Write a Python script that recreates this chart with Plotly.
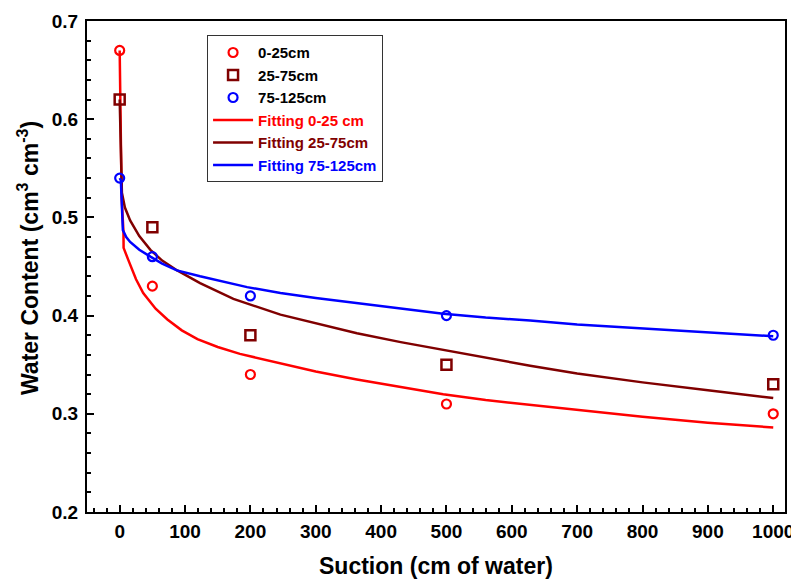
import plotly.graph_objects as go

# Measured data
suction = [0, 50, 200, 500, 1000]
wc_0_25 = [0.67, 0.43, 0.34, 0.31, 0.30]
wc_25_75 = [0.62, 0.49, 0.38, 0.35, 0.33]
wc_75_125 = [0.54, 0.46, 0.42, 0.40, 0.38]

# Fitted curves
fit1_x = [0, 1, 3, 5.8, 6, 13, 25, 36, 55, 73, 95, 119, 150, 184, 246, 300, 363, 430, 495, 560, 628, 700, 800, 900, 1000]
fit1_y = [0.67, 0.60, 0.52, 0.485, 0.469, 0.457, 0.437, 0.423, 0.407, 0.396, 0.385, 0.376, 0.368, 0.361, 0.351, 0.343,
          0.335, 0.327, 0.320, 0.314, 0.309, 0.304, 0.297, 0.291, 0.286]
fit2_x = [0, 1, 2, 3.4, 8, 16, 30, 47, 65, 88, 123, 174, 246, 300, 363, 430, 495, 560, 628, 700, 800, 900, 1000]
fit2_y = [0.62, 0.58, 0.55, 0.525, 0.51, 0.497, 0.481, 0.467, 0.456, 0.446, 0.433, 0.417, 0.401, 0.392, 0.382, 0.373,
          0.365, 0.357, 0.349, 0.341, 0.332, 0.324, 0.316]
fit3_x = [0, 1.8, 4.9, 10, 16, 30, 47, 65, 87.5, 123, 195, 246, 300, 363, 430, 495, 560, 628, 700, 800, 900, 1000]
fit3_y = [0.54, 0.538, 0.487, 0.480, 0.475, 0.467, 0.460, 0.453, 0.446, 0.440, 0.429, 0.423, 0.418, 0.413, 0.407,
          0.402, 0.398, 0.395, 0.391, 0.387, 0.383, 0.379]

x_ticks = list(range(0, 1001, 100))
y_ticks = [0.2, 0.3, 0.4, 0.5, 0.6, 0.7]
y_ticktext = ["0.2", "0.3", "0.4", "0.5", "0.6", "0.7"]

RED = "#FF0000"
BROWN = "#800000"
BLUE = "#0000FF"
FONT = "Liberation Sans, Arial, sans-serif"

# page body has an 8px default margin, so the figure is drawn 8px in
W, H = 791, 573
L, T, R, B = 79, 13, 14, 69
PW = W - L - R
PH = H - T - B

fig = go.Figure()
fig.add_trace(go.Scatter(x=fit1_x, y=fit1_y, mode="lines", line=dict(color=RED, width=2.5),
                         name="<span style='color:#FF0000'>Fitting 0-25 cm</span>", legendrank=4))
fig.add_trace(go.Scatter(x=fit2_x, y=fit2_y, mode="lines", line=dict(color=BROWN, width=2.5),
                         name="<span style='color:#800000'>Fitting 25-75cm</span>", legendrank=5))
fig.add_trace(go.Scatter(x=fit3_x, y=fit3_y, mode="lines", line=dict(color=BLUE, width=2.5),
                         name="<span style='color:#0000FF'>Fitting 75-125cm</span>", legendrank=6))
fig.add_trace(go.Scatter(x=suction, y=wc_0_25, mode="markers", name="0-25cm", legendrank=1,
                         marker=dict(symbol="circle-open", size=9, color=RED, line=dict(width=2.2, color=RED))))
fig.add_trace(go.Scatter(x=suction, y=wc_25_75, mode="markers", name="25-75cm", legendrank=2,
                         marker=dict(symbol="square-open", size=10, color=BROWN, line=dict(width=2.5, color=BROWN))))
fig.add_trace(go.Scatter(x=suction, y=wc_75_125, mode="markers", name="75-125cm", legendrank=3,
                         marker=dict(symbol="circle-open", size=9, color=BLUE, line=dict(width=2.2, color=BLUE))))

fig.update_layout(
    width=W, height=H,
    margin=dict(l=L, r=R, t=T, b=B, autoexpand=False),
    paper_bgcolor="white", plot_bgcolor="white",
    font=dict(family=FONT, color="black"),
    showlegend=True,
    legend=dict(x=0.172, y=0.971, xanchor="left", yanchor="top",
                bordercolor="#333333", borderwidth=1, bgcolor="white",
                font=dict(family=FONT, size=15, weight="bold", color="black"),
                itemwidth=40, tracegroupgap=0),
    annotations=[
        dict(text="Water Content (cm<sup>3</sup> cm<sup>-3</sup>)", xref="paper", yref="paper",
             x=(28 - 87) / PW, y=(512 - 258) / PH, xanchor="center", yanchor="middle", textangle=-90,
             showarrow=False, font=dict(family=FONT, size=23, weight="bold", color="black")),
        dict(text="Suction (cm of water)", xref="paper", yref="paper",
             x=0.5, y=(512 - 566) / PH, xanchor="center", yanchor="middle", showarrow=False,
             font=dict(family=FONT, size=23, weight="bold", color="black")),
    ],
)
fig.update_xaxes(
    range=[-50, 1018], tickmode="array", tickvals=x_ticks,
    ticks="inside", ticklen=7, tickwidth=1.5, tickcolor="black",
    minor=dict(dtick=20, tick0=0, ticks="inside", ticklen=4, tickcolor="black", showgrid=False),
    showline=True, linecolor="black", linewidth=2, mirror=True, showgrid=False, zeroline=False,
    tickfont=dict(family=FONT, size=19, weight="bold", color="black"),
    automargin=False, ticklabelstandoff=1,
)
fig.update_yaxes(
    range=[0.2, 0.7], tickmode="array", tickvals=y_ticks, ticktext=y_ticktext,
    ticks="inside", ticklen=7, tickwidth=1.5, tickcolor="black",
    minor=dict(dtick=0.02, tick0=0.2, ticks="inside", ticklen=4, tickcolor="black", showgrid=False),
    showline=True, linecolor="black", linewidth=2, mirror=True, showgrid=False, zeroline=False,
    tickfont=dict(family=FONT, size=19, weight="bold", color="black"),
    automargin=False, ticklabelstandoff=3,
)
fig.write_html("out.html")
